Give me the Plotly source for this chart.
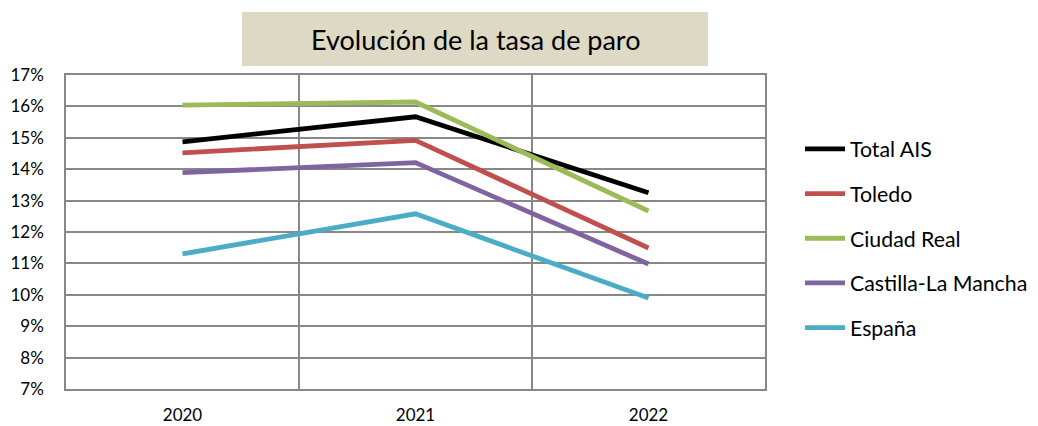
import plotly.graph_objects as go

years = ["2020", "2021", "2022"]
series_names = ["Total AIS", "Toledo", "Ciudad Real", "Castilla-La Mancha", "España"]
total_ais = [14.87, 15.67, 13.25]
toledo = [14.52, 14.92, 11.49]
ciudad_real = [16.04, 16.14, 12.67]
castilla_la_mancha = [13.89, 14.21, 10.98]
espana = [11.30, 12.58, 9.90]
colors = ["#000000", "#C0504D", "#9BBB59", "#8064A2", "#4BACC6"]
y_ticks = list(range(7, 18))
y_tick_labels = [f"{v}%" for v in y_ticks]
title_text = "Evolución de la tasa de paro"

FONT = "Lato, Carlito, Calibri, sans-serif"

# page body has an 8px margin: figure coords = screen coords - 8
OFF = 8
PL, PR, PT, PB = 66 - OFF, 765 - OFF, 75 - OFF, 389 - OFF
W, H = 1038, 426
PW, PH = PR - PL, PB - PT

def px(x):
    return (x - OFF - PL) / PW

def py(y):
    return (PB - (y - OFF)) / PH

def cx(x):
    return (x - OFF) / W

def cy(y):
    return 1 - (y - OFF) / H

fig = go.Figure()
for i, (name, vals) in enumerate(zip(series_names, [total_ais, toledo, ciudad_real, castilla_la_mancha, espana])):
    fig.add_trace(go.Scatter(
        x=years, y=vals, name=name, mode="lines",
        line=dict(color=colors[i], width=4.8),
        legendgroup=name,
    ))

fig.update_layout(
    width=W, height=H,
    margin=dict(l=PL, r=W - PR, t=PT, b=H - PB, autoexpand=False),
    paper_bgcolor="white", plot_bgcolor="white",
    font=dict(family=FONT, size=17, color="#000000"),
    showlegend=True,
    legend=dict(
        xref="container", yref="container",
        x=cx(800), y=cy(128.5), xanchor="left", yanchor="top",
        font=dict(family=FONT, size=21.3),
        tracegroupgap=14,
        itemwidth=40,
        bgcolor="rgba(0,0,0,0)",
    ),
    xaxis=dict(
        type="category", tickson="boundaries", automargin=False,
        showgrid=True, gridcolor="#888888", gridwidth=1.5,
        showline=True, linecolor="#888888", linewidth=1.5, mirror=True,
        ticks="", tickfont=dict(size=17), range=[-0.5, 2.5],
        ticklabelstandoff=10,
    ),
    yaxis=dict(
        range=[7, 17], tickvals=y_ticks, ticktext=y_tick_labels, automargin=False,
        showgrid=True, gridcolor="#888888", gridwidth=1.5,
        showline=True, linecolor="#888888", linewidth=1.5, mirror=True,
        ticks="", tickfont=dict(size=17), zeroline=False,
        ticklabelstandoff=17,
    ),
    shapes=[dict(
        type="rect", xref="paper", yref="paper",
        x0=px(242), x1=px(708), y0=py(66), y1=py(12),
        fillcolor="#DDD9C4", line=dict(width=0), layer="below",
    )],
    annotations=[dict(
        text=title_text, xref="paper", yref="paper",
        x=px(475), y=py(40),
        xanchor="center", yanchor="middle", showarrow=False,
        font=dict(family=FONT, size=27, color="#000000"),
    )],
)

fig.write_html("out.html")
